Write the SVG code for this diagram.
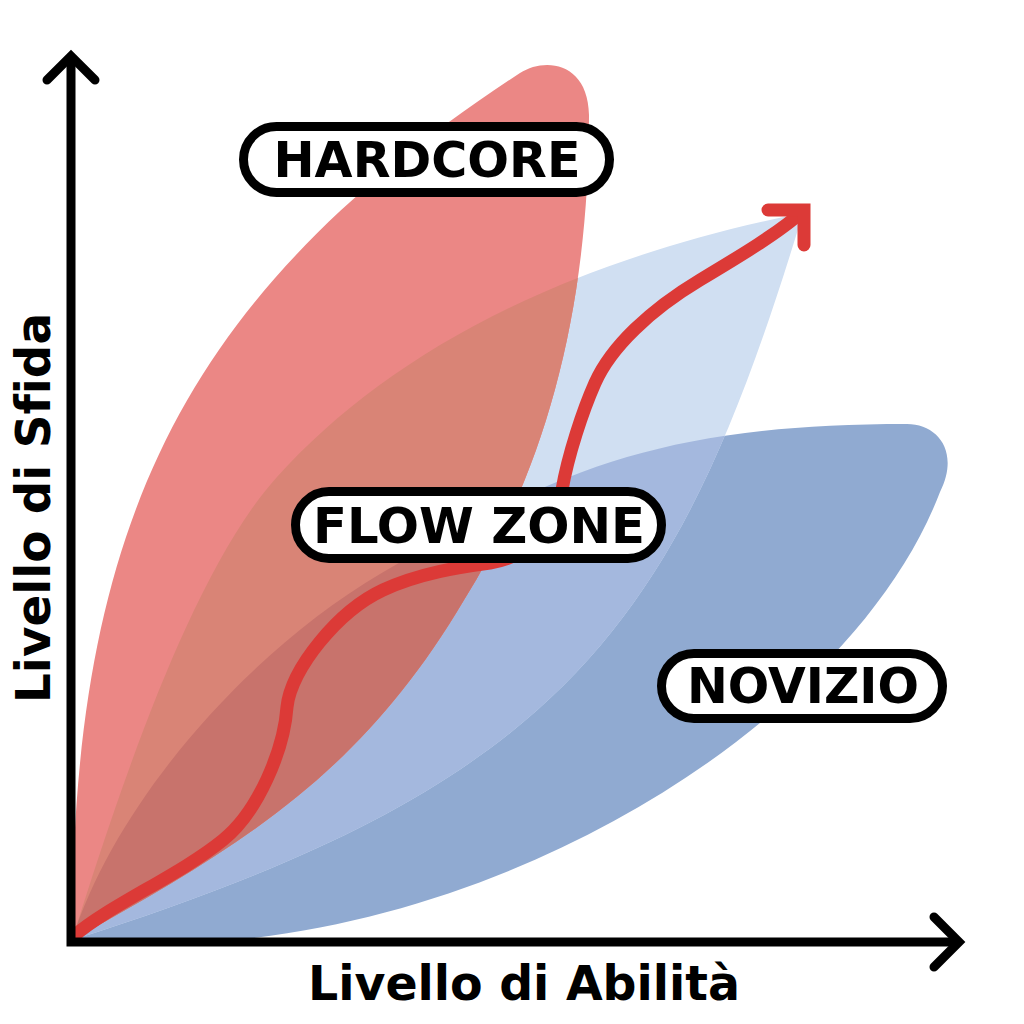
<svg xmlns="http://www.w3.org/2000/svg" xmlns:xlink="http://www.w3.org/1999/xlink" width="1024" height="1024" viewBox="0 0 1024 1024">
  <style>
    .axis { fill: none; stroke: #000; stroke-width: 9; stroke-linecap: round; stroke-linejoin: miter; }
    .axlabel { font-family: "DejaVu Sans", "Liberation Sans", sans-serif; font-weight: bold; font-size: 48px; fill: #000; font-variant-ligatures: none; }
    .pill { fill: #fff; stroke: #000; stroke-width: 9; }
    .pilltext { font-family: "DejaVu Sans", "Liberation Sans", sans-serif; font-weight: bold; font-size: 50px; fill: #000; text-anchor: middle; }
    .flow { fill: none; stroke: #dc3a37; stroke-width: 13; stroke-linecap: round; stroke-linejoin: miter; }
  </style>
  <defs>
    <path id="pRed" d="M 72,940 C 72,520 185,292 520,73 C 545,57 588,62 589,115 C 589,315 543.5,472.5 464,600 C 362,772 246.8,842.8 72,940 Z"/>
    <path id="pFlow" d="M 72,940 C 117,797.5 190,573 277,477 C 384.2,358.6 553,263 803,213 C 678,626 566,784 72,940 Z"/>
    <path id="pNov" d="M 72,940 C 117,797.5 252.5,649 380,574 C 552.4,472.6 657,424 907,424 C 938,424 960,452 940,492 C 861.7,697.5 569.8,899.6 253,938 C 190,944 110,941 72,940 Z"/>
    <clipPath id="cFlow"><use xlink:href="#pFlow"/></clipPath>
    <clipPath id="cRed"><use xlink:href="#pRed"/></clipPath>
  </defs>
  <rect width="1024" height="1024" fill="#fff"/>

  <g id="zones">
    <use id="novizio-zone" xlink:href="#pNov" fill="#90aad1"/>
    <use id="flow-zone" xlink:href="#pFlow" fill="#d0dff2"/>
    <use xlink:href="#pNov" fill="#a4b8de" clip-path="url(#cFlow)"/>
    <use id="hardcore-zone" xlink:href="#pRed" fill="#eb8785"/>
    <g clip-path="url(#cRed)">
      <use xlink:href="#pFlow" fill="#d98476"/>
      <use xlink:href="#pNov" fill="#c8736c"/>
    </g>
  </g>

  <g id="connectors">
    <path id="flow-path" class="flow" d="M 74,936 C 110,905 180,875 223,840 C 258,812 284,750 287,707 C 291,669 338,611 383,590 C 420,573 460,567 490,563 C 530,556 555,530 562,490 C 568,455 583,410 595,383 C 611,347 650,310 700,280 C 740,256 780,232 803,211"/>
    <polyline class="flow" points="768,210 804,210 804,245"/>
    <polyline id="axes" class="axis" points="71,57 71,942 958,942"/>
    <polyline class="axis" points="47,80 71,56 95,80"/>
    <polyline class="axis" points="934,917 959,942 934,967"/>
  </g>

  <g id="hardcore">
    <rect class="pill" x="243.5" y="126.5" width="366" height="66" rx="33"/>
    <text class="pilltext" x="427" y="177" textLength="307" lengthAdjust="spacingAndGlyphs">HARDCORE</text>
  </g>
  <g id="flowzone">
    <rect class="pill" x="295.5" y="491.5" width="366" height="67" rx="33.5"/>
    <text class="pilltext" x="479" y="543" textLength="332" lengthAdjust="spacingAndGlyphs">FLOW ZONE</text>
  </g>
  <g id="novizio">
    <rect class="pill" x="661.5" y="653.5" width="281" height="65" rx="32.5"/>
    <text class="pilltext" x="803" y="703" textLength="232" lengthAdjust="spacingAndGlyphs">NOVIZIO</text>
  </g>

  <g id="labels">
    <text class="axlabel" x="524" y="1000" text-anchor="middle" textLength="432" lengthAdjust="spacingAndGlyphs">Livello di Abilità</text>
    <text class="axlabel" transform="translate(50,508) rotate(-90)" x="0" y="0" text-anchor="middle" textLength="390" lengthAdjust="spacingAndGlyphs">Livello di Sfida</text>
  </g>
</svg>
